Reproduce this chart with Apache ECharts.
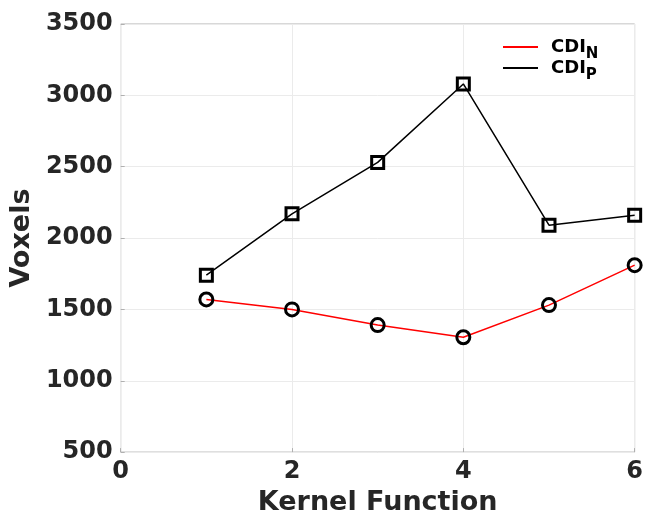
<!DOCTYPE html>
<html><head><meta charset="utf-8">
<script src="https://cdn.jsdelivr.net/npm/echarts@6/dist/echarts.min.js"></script>
<style>html,body{margin:0;padding:0;background:#fff}#c{width:646px;height:521px}</style>
</head><body><div id="c"></div>
<script>
const kernels = [1, 2, 3, 4, 5, 6];
const cdiN = [1570, 1500, 1390, 1305, 1530, 1810];
const cdiP = [1740, 2170, 2530, 3080, 2090, 2160];
const xTicks = [0, 2, 4, 6];
const yTicks = [500, 1000, 1500, 2000, 2500, 3000, 3500];

const chart = echarts.init(document.getElementById('c'));
const font = 'DejaVu Sans';
const txt = '#262626';
chart.setOption({
  animation: false,
  grid: {left: 119, right: 9, top: 24, bottom: 64, show: true, borderColor: '#b0b0b0', borderWidth: 1},
  legend: {
    left: 498, top: 33, orient: 'vertical', itemWidth: 35, itemHeight: 2, itemGap: -3,
    data: [
      {name: 'N', icon: 'rect', itemStyle: {color: '#ff0000', borderWidth: 0, opacity: 1}},
      {name: 'P', icon: 'rect', itemStyle: {color: '#000000', borderWidth: 0, opacity: 1}}
    ],
    formatter: n => '{a|CDI}{s|' + n + '}',
    textStyle: {
      padding: [0, 0, 0, 8],
      rich: {
        a: {fontFamily: font, fontWeight: 'bold', fontSize: 18, color: '#000'},
        s: {fontFamily: font, fontWeight: 'bold', fontSize: 15, color: '#000', padding: [15, 0, 0, 0]}
      }
    }
  },
  xAxis: {
    type: 'value', min: xTicks[0], max: xTicks[xTicks.length - 1], interval: 2,
    name: 'Kernel Function', nameLocation: 'middle', nameGap: 36,
    nameTextStyle: {fontFamily: font, fontWeight: 'bold', fontSize: 27, color: txt},
    axisLine: {show: false},
    axisTick: {show: true, inside: true, length: 4, lineStyle: {color: '#b0b0b0'}},
    axisLabel: {fontFamily: font, fontWeight: 'bold', fontSize: 24, color: txt, margin: 8},
    splitLine: {show: true, lineStyle: {color: '#ebebeb'}}
  },
  yAxis: {
    type: 'value', min: yTicks[0], max: yTicks[yTicks.length - 1], interval: 500,
    name: 'Voxels', nameLocation: 'middle', nameGap: 80, nameRotate: 90,
    nameTextStyle: {fontFamily: font, fontWeight: 'bold', fontSize: 27, color: txt},
    axisLine: {show: false},
    axisTick: {show: true, inside: true, length: 4, lineStyle: {color: '#b0b0b0'}},
    axisLabel: {fontFamily: font, fontWeight: 'bold', fontSize: 24, color: txt, margin: 8, formatter: v => String(v)},
    splitLine: {show: true, lineStyle: {color: '#ebebeb'}}
  },
  series: [
    {
      name: 'N', type: 'line', data: kernels.map((k, i) => [k, cdiN[i]]),
      lineStyle: {color: '#ff0000', width: 1.5},
      symbol: 'circle', symbolSize: 13,
      itemStyle: {color: 'rgba(255,255,255,0)', borderColor: '#000', borderWidth: 3},
      z: 3
    },
    {
      name: 'P', type: 'line', data: kernels.map((k, i) => [k, cdiP[i]]),
      lineStyle: {color: '#000000', width: 1.5},
      symbol: 'rect', symbolSize: 12,
      itemStyle: {color: 'rgba(255,255,255,0)', borderColor: '#000', borderWidth: 3},
      z: 3
    }
  ]
});
</script></body></html>
